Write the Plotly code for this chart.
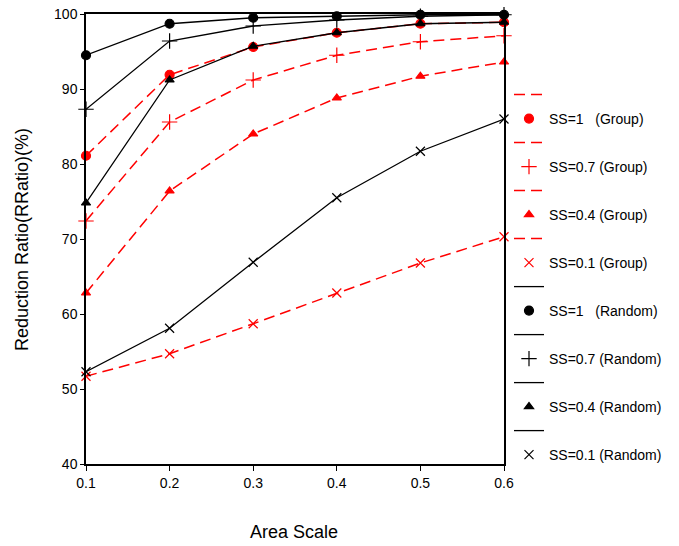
import plotly.graph_objects as go

area_scale = [0.1, 0.2, 0.3, 0.4, 0.5, 0.6]

group_ss1 = [81.1, 91.9, 95.6, 97.5, 98.7, 98.9]
group_ss07 = [72.4, 85.6, 91.2, 94.5, 96.3, 97.1]
group_ss04 = [62.8, 76.4, 84.0, 88.8, 91.7, 93.6]
group_ss01 = [51.7, 54.7, 58.7, 62.8, 66.8, 70.3]

random_ss1 = [94.5, 98.7, 99.5, 99.7, 99.9, 99.9]
random_ss07 = [87.3, 96.4, 98.4, 99.2, 99.7, 99.9]
random_ss04 = [74.8, 91.2, 95.7, 97.5, 98.7, 98.9]
random_ss01 = [52.3, 58.1, 66.9, 75.5, 81.7, 86.0]

labels = [
    "SS=1\u00a0\u00a0\u00a0(Group)",
    "SS=0.7 (Group)",
    "SS=0.4 (Group)",
    "SS=0.1 (Group)",
    "SS=1\u00a0\u00a0\u00a0(Random)",
    "SS=0.7 (Random)",
    "SS=0.4 (Random)",
    "SS=0.1 (Random)",
]

y_ticks = [40, 50, 60, 70, 80, 90, 100]
x_ticks = [0.1, 0.2, 0.3, 0.4, 0.5, 0.6]

series = [group_ss1, group_ss07, group_ss04, group_ss01,
          random_ss1, random_ss07, random_ss04, random_ss01]
symbols = ["circle", "cross-thin", "triangle-up", "x-thin"] * 2
sizes = [9, 11, 8, 9] * 2
RED = "#FF0000"
BLK = "#000000"

fig = go.Figure()
for i, (vals, lab, sym, sz) in enumerate(zip(series, labels, symbols, sizes)):
    col = RED if i < 4 else BLK
    dash = "11px,6px" if i < 4 else "solid"
    lw = 1.5 if i < 4 else 1.3
    fig.add_trace(go.Scatter(
        x=area_scale, y=vals, mode="lines", name="",
        line=dict(color=col, width=lw, dash=dash),
        legendgroup=f"l{i}", cliponaxis=False,
    ))
    fig.add_trace(go.Scatter(
        x=area_scale, y=vals, mode="markers", name=lab,
        marker=dict(symbol=sym, size=sz, color=col,
                    line=dict(color=col, width=1.2)),
        legendgroup=f"m{i}", cliponaxis=False,
    ))

W, H = 679, 546
L = 86
T = 14
B = H - 464
pw = W - L
ph = H - T - B
x_end = (504 - L) / pw


def px_x(p):
    return (p - L) / pw


def px_y(p):
    return 1 - (p - T) / ph


fig.update_layout(
    width=W, height=H,
    margin=dict(l=L, r=0, t=T, b=B, autoexpand=False),
    paper_bgcolor="white", plot_bgcolor="white",
    font=dict(family="Liberation Sans, Arial, sans-serif", size=14, color="black"),
    showlegend=True,
    legend=dict(
        x=px_x(509), xanchor="left",
        y=px_y(79), yanchor="top",
        font=dict(size=14),
        traceorder="grouped", tracegroupgap=2.8,
        bgcolor="rgba(0,0,0,0)", borderwidth=0,
        itemwidth=30,
    ),
    xaxis=dict(
        domain=[0, x_end], automargin=False,
        range=[0.1, 0.6], tickvals=x_ticks, ticktext=[f"{v:.1f}" for v in x_ticks],
        showgrid=False, zeroline=False,
        showline=True, linecolor="black", linewidth=1.5, mirror=True,
        ticks="outside", ticklen=5, tickcolor="black", tickwidth=1.2,
        tickfont=dict(size=14), ticklabeloverflow="allow",
    ),
    yaxis=dict(
        range=[40, 100], tickvals=y_ticks, automargin=False,
        showgrid=False, zeroline=False,
        showline=True, linecolor="black", linewidth=1.5, mirror=True,
        ticks="outside", ticklen=4, tickcolor="black", tickwidth=1.2,
        tickfont=dict(size=14), ticklabeloverflow="allow",
    ),
    annotations=[
        dict(text="Area Scale", xref="paper", yref="paper",
             x=px_x(294), y=px_y(532),
             xanchor="center", yanchor="middle", showarrow=False,
             font=dict(size=18)),
        dict(text="Reduction Ratio(RRatio)(%)", xref="paper", yref="paper",
             x=px_x(22), y=px_y(240), textangle=-90,
             xanchor="center", yanchor="middle", showarrow=False,
             font=dict(size=18)),
    ],
)

fig.write_html("out.html",
               config={"displayModeBar": False},
               post_script="document.body.style.margin='0px';document.body.style.overflow='hidden';")
